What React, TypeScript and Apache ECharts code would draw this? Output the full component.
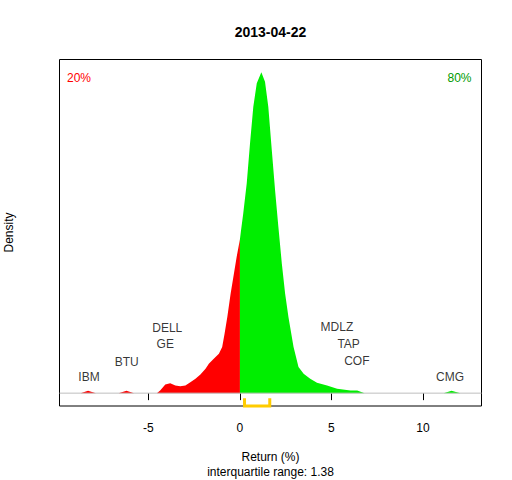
import React, { useEffect, useRef } from "react";
import * as echarts from "echarts";

const FONT = "'Liberation Sans', Arial, sans-serif";

const xMin = -9.86;
const xMax = 13.2;
const yMin = -0.0154;
const yMax = 0.3999;
const xTicks = [-5, 0, 5, 10];

// left (red) part of the density, returns in %
const redX = [-8.71, -8.3, -7.87, -6.63, -6.2, -5.79, -4.54, -4.36, -4.08, -3.81, -3.53, -3.26, -2.98, -2.71, -2.43, -2.16, -1.88, -1.7, -1.43, -1.15, -0.97, -0.84, -0.69, -0.51, -0.33, -0.18, 0];
const redY = [0, 0.0028, 0, 0, 0.0028, 0, 0, 0.0032, 0.0104, 0.012, 0.0092, 0.0084, 0.0092, 0.0132, 0.0172, 0.0224, 0.0292, 0.0352, 0.0412, 0.0472, 0.0552, 0.0712, 0.0912, 0.1192, 0.1432, 0.1633, 0.1845];

// right (green) part of the density
const greenX = [0, 0.05, 0.18, 0.37, 0.55, 0.73, 0.92, 1.17, 1.37, 1.55, 1.74, 1.92, 2.1, 2.29, 2.47, 2.65, 2.93, 3.2, 3.48, 3.84, 4.21, 4.76, 5.31, 6.04, 6.41, 6.81, 11.13, 11.56, 12.05];
const greenY = [0.1845, 0.1933, 0.2152, 0.2513, 0.2993, 0.3433, 0.3713, 0.3845, 0.3733, 0.3433, 0.2914, 0.2433, 0.1993, 0.1552, 0.1192, 0.0912, 0.0552, 0.0312, 0.0232, 0.0172, 0.0124, 0.0092, 0.0052, 0.0032, 0.0032, 0, 0, 0.0028, 0];

// stock labels
const labelNames = ["IBM", "BTU", "DELL", "GE", "MDLZ", "TAP", "COF", "CMG"];
const labelX = [-8.25, -6.19, -3.97, -4.08, 5.3, 5.94, 6.39, 11.48];
const labelY = [0.0192, 0.0379, 0.0786, 0.0587, 0.079, 0.059, 0.0383, 0.0192];

// interquartile range
const iqr = [0.25, 1.63];
const iqrTickTop = -0.0061;

const leftPct = "20%";
const rightPct = "80%";
const titleText = "2013-04-22";
const xLabel = "Return (%)";
const iqrLabel = "interquartile range: 1.38";
const yLabel = "Density";

export default function App() {
  const ref = useRef<HTMLDivElement>(null);
  useEffect(() => {
    const chart = echarts.init(ref.current!, null, { renderer: "svg" });
    const red = redX.map((x, i) => [x, redY[i]]);
    const green = greenX.map((x, i) => [x, greenY[i]]);
    const labels = labelNames.map((n, i) => ({ value: [labelX[i], labelY[i]], name: n }));
    chart.setOption({
      animation: false,
      backgroundColor: "#ffffff",
      grid: {
        left: 59.5,
        top: 59.5,
        right: 30.5,
        bottom: 74,
        show: true,
        borderColor: "#000",
        borderWidth: 1,
        backgroundColor: "transparent",
      },
      xAxis: {
        type: "value",
        min: xMin,
        max: xMax,
        axisLine: { show: false },
        axisTick: { show: true, inside: false, length: 7, customValues: xTicks, lineStyle: { color: "#000", width: 1 } },
        axisLabel: { customValues: xTicks, margin: 16, color: "#000", fontSize: 12, fontFamily: FONT },
        splitLine: { show: false },
      },
      yAxis: {
        type: "value",
        min: yMin,
        max: yMax,
        show: false,
        splitLine: { show: false },
      },
      series: [
        {
          type: "line",
          data: red,
          symbol: "none",
          lineStyle: { width: 0 },
          areaStyle: { color: "#FF0000", opacity: 1, origin: 0 },
          z: 2,
        },
        {
          type: "line",
          data: green,
          symbol: "none",
          lineStyle: { width: 0 },
          areaStyle: { color: "#00EE00", opacity: 1, origin: 0 },
          z: 2,
        },
        {
          type: "line",
          data: [[xMin, 0], [xMax, 0]],
          symbol: "none",
          lineStyle: { color: "#BEBEBE", width: 1 },
          z: 3,
        },
        {
          type: "line",
          data: [[iqr[0], iqrTickTop], [iqr[0], yMin], [iqr[1], yMin], [iqr[1], iqrTickTop]],
          symbol: "none",
          clip: false,
          lineStyle: { color: "#FFCC00", width: 3, join: "miter" },
          z: 5,
        },
        {
          type: "scatter",
          data: labels,
          symbolSize: 0,
          itemStyle: { color: "#000" },
          label: {
            show: true,
            position: "inside",
            formatter: (p: any) => p.name,
            color: "#000",
            fontSize: 12,
            fontFamily: FONT,
            textBorderWidth: 0,
            textBorderColor: "transparent",
          },
          z: 6,
        },
      ],
      graphic: [
        {
          type: "text",
          x: 270.5,
          y: 31.5,
          style: { text: titleText, fill: "#000", font: `bold 14px ${FONT}`, align: "center", verticalAlign: "middle" },
        },
        {
          type: "text",
          x: 67,
          y: 78,
          style: { text: leftPct, fill: "#FF0000", font: `12px ${FONT}`, align: "left", verticalAlign: "middle" },
        },
        {
          type: "text",
          x: 471.5,
          y: 78,
          style: { text: rightPct, fill: "#009A00", font: `12px ${FONT}`, align: "right", verticalAlign: "middle" },
        },
        {
          type: "text",
          x: 270.5,
          y: 457,
          style: { text: xLabel, fill: "#000", font: `12px ${FONT}`, align: "center", verticalAlign: "middle" },
        },
        {
          type: "text",
          x: 270.5,
          y: 471.5,
          style: { text: iqrLabel, fill: "#000", font: `12px ${FONT}`, align: "center", verticalAlign: "middle" },
        },
        {
          type: "text",
          x: 9,
          y: 232.5,
          rotation: Math.PI / 2,
          style: { text: yLabel, fill: "#000", font: `12px ${FONT}`, align: "center", verticalAlign: "middle" },
        },
      ],
    });
    return () => chart.dispose();
  }, []);
  return (
    <div
      ref={ref}
      style={{ position: "absolute", left: 0, top: 0, width: 512, height: 480, background: "#fff" }}
    />
  );
}
